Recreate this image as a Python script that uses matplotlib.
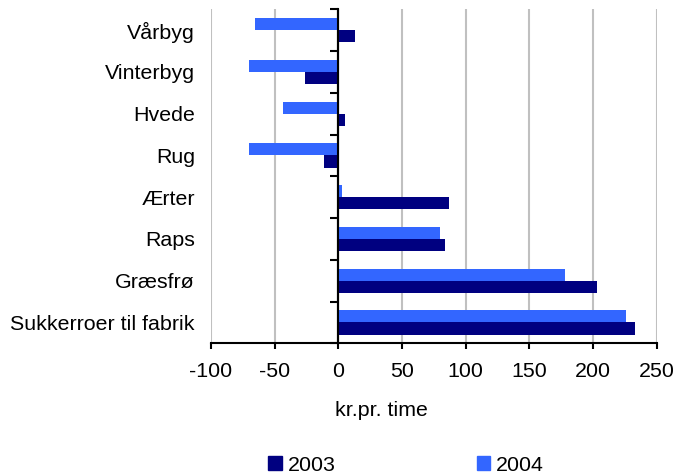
import numpy as np
import matplotlib
matplotlib.use("Agg")
import matplotlib.pyplot as plt
from matplotlib.patches import Patch

categories = ["Vårbyg", "Vinterbyg", "Hvede", "Rug", "Ærter", "Raps", "Græsfrø", "Sukkerroer til fabrik"]
values_2003 = [13, -26, 5, -11, 87, 84, 203, 233]
values_2004 = [-65, -70, -43, -70, 3, 80, 178, 226]
series_labels = ["2003", "2004"]
xticks = [-100, -50, 0, 50, 100, 150, 200, 250]
xlabel = "kr.pr. time"

c2003 = "#000080"
c2004 = "#3366FF"

plt.rcParams["font.family"] = ["Liberation Sans", "DejaVu Sans"]
FS = 15.4

fig = plt.figure(figsize=(6.78, 4.73), dpi=100)
ax = fig.add_axes([0.311, 0.2742, 0.6576, 0.7061])

y = np.arange(len(categories))
h = 0.29
ax.barh(y + h / 2, values_2003, height=h, color=c2003, zorder=3)
ax.barh(y - h / 2, values_2004, height=h, color=c2004, zorder=3)

ax.set_xlim(-100, 250)
ax.set_ylim(len(categories) - 0.5, -0.5)
ax.set_xticks(xticks)
ax.set_xticklabels([str(v) for v in xticks], fontsize=FS)
ax.set_yticks(y)
ax.set_yticklabels(categories, fontsize=FS)
ax.tick_params(axis="y", length=0, pad=11.5)
ax.tick_params(axis="x", length=4.5, width=1.5, direction="out", pad=9)

ax.grid(axis="x", color="#c0c0c0", linewidth=1.5, zorder=0)
for s in ["top", "right", "left"]:
    ax.spines[s].set_visible(False)
ax.spines["bottom"].set_linewidth(1.5)
ax.spines["bottom"].set_zorder(5)
ax.axvline(0, color="black", linewidth=1.5, zorder=4)

sec = ax.secondary_yaxis(100 / 350)
sec.set_yticks(np.arange(-0.5, len(categories), 1.0))
sec.set_yticklabels([])
sec.tick_params(length=6, width=1.5, direction="out")
sec.spines["left"].set_linewidth(1.5)
sec.spines["left"].set_color("black")

fig.text(381 / 678, 1 - 411 / 473, xlabel, ha="center", va="center", fontsize=FS)

handles = [Patch(color=c2003), Patch(color=c2004)]
fig.legend(handles, series_labels, loc="center", bbox_to_anchor=(406 / 678, 1 - 465 / 473),
           ncol=2, frameon=False, fontsize=FS, handlelength=0.65, handleheight=0.65,
           handletextpad=0.25, columnspacing=6.6, borderpad=0, borderaxespad=0)

fig.savefig("out.png", dpi=100)
